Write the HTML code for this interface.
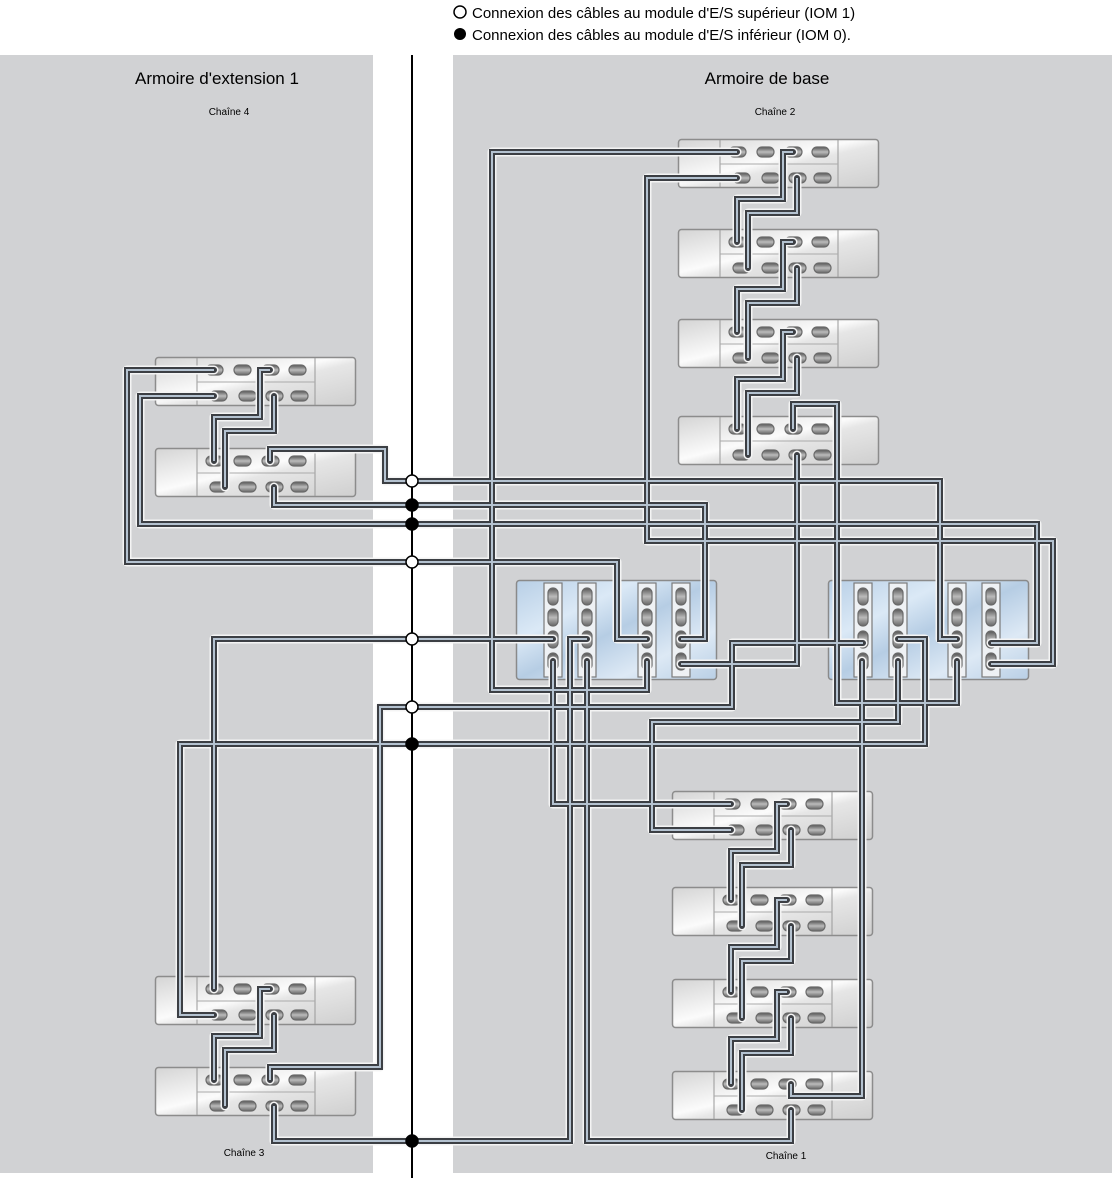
<!DOCTYPE html>
<html><head><meta charset="utf-8"><style>
html,body{margin:0;padding:0;background:#fff}
svg{display:block}
text{font-family:"Liberation Sans",sans-serif;fill:#000}
</style></head><body>
<svg width="1112" height="1178" viewBox="0 0 1112 1178" xmlns="http://www.w3.org/2000/svg">
<defs>
<linearGradient id="sg" x1="0" y1="0" x2="1" y2="1">
<stop offset="0" stop-color="#d4d4d4"/><stop offset="0.45" stop-color="#fbfbfb"/><stop offset="0.55" stop-color="#e6e6e6"/><stop offset="1" stop-color="#cfcfcf"/></linearGradient>
<linearGradient id="cg" x1="0" y1="0" x2="1" y2="1">
<stop offset="0" stop-color="#b8cfe6"/><stop offset="0.3" stop-color="#dbe9f6"/><stop offset="0.5" stop-color="#b6cde4"/><stop offset="0.75" stop-color="#dde9f5"/><stop offset="1" stop-color="#b9cfe5"/></linearGradient>
<linearGradient id="pg" x1="0" y1="0" x2="0" y2="1">
<stop offset="0" stop-color="#555"/><stop offset="0.5" stop-color="#bbb"/><stop offset="1" stop-color="#666"/></linearGradient>
<g id="shelf">
<rect x="0.5" y="0.5" width="200" height="48" rx="3" fill="url(#sg)" stroke="#8c8c8c" stroke-width="1.5"/>
<line x1="42" y1="1" x2="42" y2="48" stroke="#999"/>
<line x1="160" y1="1" x2="160" y2="48" stroke="#999"/>
<line x1="42" y1="25" x2="160" y2="25" stroke="#aaa"/>
<g fill="url(#pg)" stroke="#6a6a6a" stroke-width="1.2">
<rect x="51" y="8" width="17" height="10" rx="5"/><rect x="79" y="8" width="17" height="10" rx="5"/><rect x="107" y="8" width="17" height="10" rx="5"/><rect x="134" y="8" width="17" height="10" rx="5"/>
<rect x="55" y="34" width="17" height="10" rx="5"/><rect x="84" y="34" width="17" height="10" rx="5"/><rect x="111" y="34" width="17" height="10" rx="5"/><rect x="136" y="34" width="17" height="10" rx="5"/>
</g></g>
<g id="card">
<rect x="-9" y="3" width="18" height="94" fill="#eef1f4" stroke="#7a7a7a" stroke-width="1.2"/>
<g fill="url(#pg)" stroke="#6a6a6a" stroke-width="1.2">
<rect x="-5" y="8" width="10" height="17" rx="5"/><rect x="-5" y="29" width="10" height="17" rx="5"/><rect x="-5" y="51" width="10" height="17" rx="5"/><rect x="-5" y="73" width="10" height="17" rx="5"/>
</g></g>
<g id="ctrl">
<rect x="0.5" y="0.5" width="200" height="99" rx="3" fill="url(#cg)" stroke="#8a8a8a" stroke-width="1.5"/>
</g>
<g id="cab">
<path d="M793,152 H783 V199 H737 V242 M797,178 V213 H748 V268"/>
<path d="M793,242 H783 V289 H737 V332 M797,268 V303 H748 V358"/>
<path d="M793,332 H783 V379 H737 V429 M797,358 V393 H748 V455"/>
<path d="M787,804 H777 V851 H731 V900 M791,830 V865 H742 V926"/>
<path d="M787,900 H777 V947 H731 V992 M791,926 V961 H742 V1018"/>
<path d="M787,992 H777 V1039 H731 V1084 M791,1018 V1053 H742 V1110"/>
<path d="M270,370 H260 V417 H214 V461 M274,396 V431 H225 V487"/>
<path d="M270,989 H260 V1036 H214 V1080 M274,1015 V1050 H225 V1106"/>
<path d="M737,152 H492 V690 H647 V661"/>
<path d="M737,178 H647 V541 H1053 V664 H991"/>
<path d="M793,429 V404 H837 V703 H957 V661"/>
<path d="M797,455 V664 H681"/>
<path d="M270,461 V449 H385 V481 H940 V639 H957"/>
<path d="M274,487 V505 H705 V639 H681"/>
<path d="M214,370 H127 V562 H617 V639 H647"/>
<path d="M214,396 H140 V524 H1037 V643 H991"/>
<path d="M214,989 V639 H553"/>
<path d="M214,1015 H180 V744 H925 V639 H898"/>
<path d="M270,1080 V1067 H380 V707 H732 V643 H863"/>
<path d="M274,1106 V1141 H570 V639 H587"/>
<path d="M731,804 H553 V661"/>
<path d="M731,830 H652 V722 H898 V661"/>
<path d="M791,1084 V1096 H862 V661"/>
<path d="M791,1110 V1141 H587 V661"/>
</g>
</defs>
<rect x="0" y="55" width="373" height="1118" fill="#d1d2d4"/>
<rect x="453" y="55" width="659" height="1118" fill="#d1d2d4"/>
<line x1="412" y1="55" x2="412" y2="1178" stroke="#000" stroke-width="2"/>
<circle cx="460" cy="12" r="6" fill="#fff" stroke="#000" stroke-width="1.5"/>
<circle cx="460" cy="34" r="6" fill="#000"/>
<text x="472" y="18" font-size="15">Connexion des câbles au module d'E/S supérieur (IOM 1)</text>
<text x="472" y="40" font-size="15">Connexion des câbles au module d'E/S inférieur (IOM 0).</text>
<text x="217" y="84" font-size="17" text-anchor="middle">Armoire d'extension 1</text>
<text x="229" y="115" font-size="10" text-anchor="middle">Chaîne 4</text>
<text x="767" y="84" font-size="17" text-anchor="middle">Armoire de base</text>
<text x="775" y="115" font-size="10" text-anchor="middle">Chaîne 2</text>
<text x="244" y="1156" font-size="10" text-anchor="middle">Chaîne 3</text>
<text x="786" y="1159" font-size="10" text-anchor="middle">Chaîne 1</text>
<use href="#shelf" x="678" y="139"/><use href="#shelf" x="678" y="229"/><use href="#shelf" x="678" y="319"/><use href="#shelf" x="678" y="416"/>
<use href="#shelf" x="672" y="791"/><use href="#shelf" x="672" y="887"/><use href="#shelf" x="672" y="979"/><use href="#shelf" x="672" y="1071"/>
<use href="#shelf" x="155" y="357"/><use href="#shelf" x="155" y="448"/><use href="#shelf" x="155" y="976"/><use href="#shelf" x="155" y="1067"/>
<use href="#ctrl" x="516" y="580"/><use href="#ctrl" x="828" y="580"/>
<use href="#card" x="553" y="580"/><use href="#card" x="587" y="580"/><use href="#card" x="647" y="580"/><use href="#card" x="681" y="580"/>
<use href="#card" x="863" y="580"/><use href="#card" x="898" y="580"/><use href="#card" x="957" y="580"/><use href="#card" x="991" y="580"/>
<use href="#cab" fill="none" stroke="#f4f4f4" stroke-width="9" stroke-linejoin="round" stroke-linecap="round"/>
<use href="#cab" fill="none" stroke="#3c3f44" stroke-width="6" stroke-linejoin="miter" stroke-linecap="round"/>
<use href="#cab" fill="none" stroke="#b4c2d0" stroke-width="2" stroke-linejoin="miter"/>
<g stroke="#000" stroke-width="1.5">
<circle cx="412" cy="481" r="6" fill="#fff"/>
<circle cx="412" cy="505" r="6" fill="#000"/>
<circle cx="412" cy="524" r="6" fill="#000"/>
<circle cx="412" cy="562" r="6" fill="#fff"/>
<circle cx="412" cy="639" r="6" fill="#fff"/>
<circle cx="412" cy="707" r="6" fill="#fff"/>
<circle cx="412" cy="744" r="6" fill="#000"/>
<circle cx="412" cy="1141" r="6" fill="#000"/>
</g>
</svg>
</body></html>
